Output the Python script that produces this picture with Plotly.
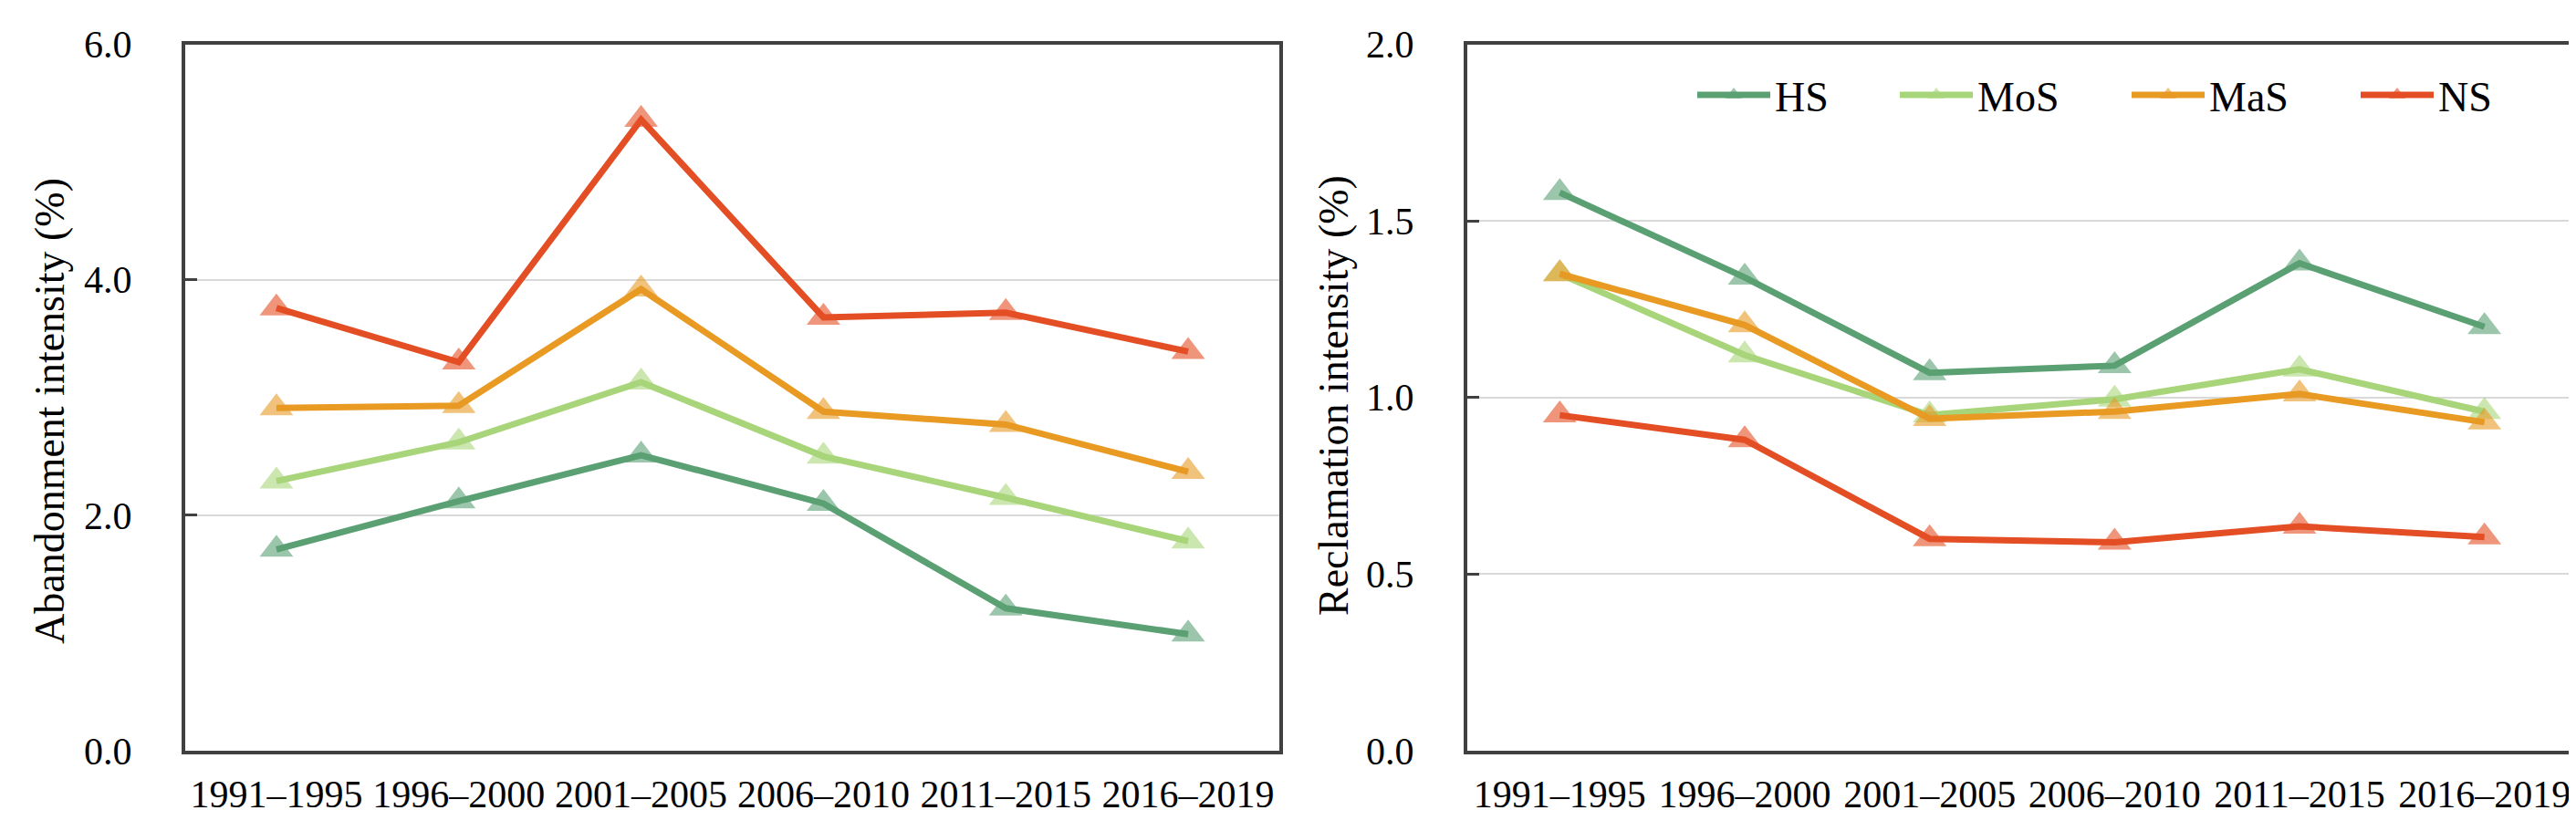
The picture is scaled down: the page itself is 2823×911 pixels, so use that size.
import plotly.graph_objects as go

# ---------------- data ----------------
periods = ["1991–1995", "1996–2000", "2001–2005", "2006–2010", "2011–2015", "2016–2019"]
series_names = ["HS", "MoS", "MaS", "NS"]

abandon_HS = [1.71, 2.12, 2.51, 2.10, 1.21, 0.99]
abandon_MoS = [2.29, 2.62, 3.13, 2.50, 2.15, 1.78]
abandon_MaS = [2.91, 2.93, 3.92, 2.88, 2.77, 2.37]
abandon_NS = [3.76, 3.30, 5.36, 3.68, 3.72, 3.39]

reclaim_HS = [1.58, 1.34, 1.07, 1.09, 1.38, 1.20]
reclaim_MoS = [1.35, 1.12, 0.95, 0.995, 1.08, 0.96]
reclaim_MaS = [1.35, 1.205, 0.94, 0.96, 1.01, 0.93]
reclaim_NS = [0.95, 0.88, 0.60, 0.59, 0.635, 0.605]

left_ticks = [0, 2, 4, 6]
right_ticks = [0, 0.5, 1.0, 1.5, 2.0]
left_title = "Abandonment intensity (%)"
right_title = "Reclamation intensity (%)"

# ---------------- style ----------------
FONT = "Liberation Serif"
line_rgb = {"HS": (90, 160, 115), "MoS": (168, 213, 122), "MaS": (232, 154, 35), "NS": (228, 78, 37)}
W, H = 2823, 911

abandon = {"HS": abandon_HS, "MoS": abandon_MoS, "MaS": abandon_MaS, "NS": abandon_NS}
reclaim = {"HS": reclaim_HS, "MoS": reclaim_MoS, "MaS": reclaim_MaS, "NS": reclaim_NS}

fig = go.Figure()

legend_ids = ["legend", "legend2", "legend3", "legend4"]
for i, name in enumerate(series_names):
    r, g, b = line_rgb[name]
    lc = f"rgb({r},{g},{b})"
    mc = f"rgba({r},{g},{b},0.6)"
    fig.add_trace(go.Scatter(
        x=periods, y=abandon[name], name=name, mode="lines+markers",
        line=dict(color=lc, width=7),
        marker=dict(symbol="triangle-up", size=32, color=mc, line=dict(width=0)),
        xaxis="x", yaxis="y", showlegend=False))
    fig.add_trace(go.Scatter(
        x=periods, y=reclaim[name], name=name, mode="lines+markers",
        line=dict(color=lc, width=7),
        marker=dict(symbol="triangle-up", size=32, color=mc, line=dict(width=0)),
        xaxis="x2", yaxis="y2", showlegend=True, legend=legend_ids[i]))

ydom = [1 - 815 / H, 1 - 40.5 / H]
axis_line = dict(showline=True, linecolor="#404040", linewidth=4, mirror=True)

xcommon = dict(type="category", range=[-0.5, 5.5], ticks="", showgrid=False,
               tickfont=dict(family=FONT, size=42, color="black"),
               ticklabelstandoff=8, automargin=False, zeroline=False, **axis_line)
ycommon = dict(ticks="inside", ticklen=13, tickwidth=2.5, tickcolor="#404040",
               showgrid=True, gridcolor="#d9d9d9", gridwidth=1.5, zeroline=False,
               tickfont=dict(family=FONT, size=42, color="black"),
               ticklabelstandoff=46, automargin=False, tickformat=".1f", **axis_line)

fig.update_layout(
    width=W, height=H,
    margin=dict(l=0, r=0, t=0, b=0),
    paper_bgcolor="white", plot_bgcolor="white",
    font=dict(family=FONT, color="black"),
    xaxis=dict(domain=[195 / W, 1394 / W], anchor="y", **xcommon),
    yaxis=dict(domain=ydom, anchor="x", range=[0, 6], tickvals=left_ticks, **ycommon),
    xaxis2=dict(domain=[1600 / W, 2816 / W], anchor="y2", **xcommon),
    yaxis2=dict(domain=ydom, anchor="x2", range=[0, 2], tickvals=right_ticks, **ycommon),
)

legend_x = [1847, 2069, 2323, 2574]
for lid, lx in zip(legend_ids, legend_x):
    fig.update_layout({lid: dict(x=lx / W, y=1 - 96 / H, xanchor="left", yanchor="middle",
                                 orientation="h", bgcolor="rgba(0,0,0,0)", borderwidth=0,
                                 itemwidth=80,
                                 font=dict(family=FONT, size=46, color="black"))})

fig.add_annotation(text=left_title, x=46 / W, y=1 - 443 / H, xref="paper", yref="paper",
                   textangle=-90, showarrow=False, xanchor="center", yanchor="middle",
                   font=dict(family=FONT, size=46, color="black"))
fig.add_annotation(text=right_title, x=1453 / W, y=1 - 425 / H, xref="paper", yref="paper",
                   textangle=-90, showarrow=False, xanchor="center", yanchor="middle",
                   font=dict(family=FONT, size=46, color="black"))

fig.write_html("out.html")
